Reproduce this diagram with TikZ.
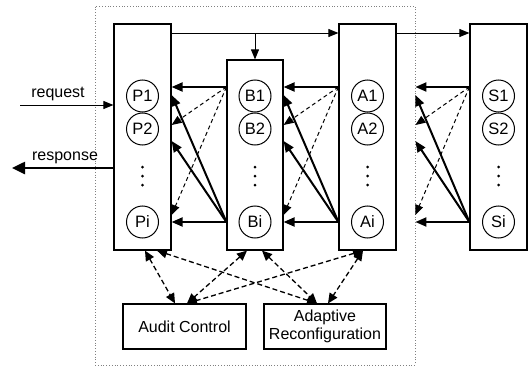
\documentclass[tikz,border=0pt]{standalone}
\usepackage{fontspec}
\setmainfont{Liberation Sans}
\usetikzlibrary{arrows.meta,calc}
\begin{document}
\begin{tikzpicture}[x=1pt,y=-1pt,
  box/.style={draw,line width=1.2pt,inner sep=0pt},
  proc/.style={draw,circle,line width=1pt,minimum size=32pt,inner sep=0pt,font=\fontsize{16.5}{18}\selectfont},
  lbl/.style={font=\fontsize{16}{18}\selectfont},
  thinarr/.style={line width=1pt,-{Triangle[length=10pt,width=8pt]}},
  thickarr/.style={line width=2pt,-{Triangle[length=11pt,width=9pt]}},
  bigarr/.style={line width=2.5pt,-{Triangle[length=13pt,width=12pt]}},
  dsharr/.style={line width=1pt,dash pattern=on 4pt off 3pt,-{Triangle[length=10pt,width=8pt]}},
  bidash/.style={line width=1.3pt,dash pattern=on 5pt off 3pt,{Triangle[length=10pt,width=9pt]}-{Triangle[length=10pt,width=9pt]}},
  dotdot/.style={fill,circle,inner sep=0pt,minimum size=3pt},
  frame/.style={draw=gray,dotted,line width=0.8pt,inner sep=0pt}
]
\useasboundingbox (0,0) rectangle (531,367);
\node[frame,minimum width=320pt,minimum height=359pt] (F) at (255,185.5) {};
\node[box,minimum width=57pt,minimum height=226pt] (P) at (142.5,137) {};
\node[box,minimum width=56pt,minimum height=190pt] (B) at (255,155) {};
\node[box,minimum width=57pt,minimum height=226pt] (A) at (367.5,137) {};
\node[box,minimum width=57pt,minimum height=226pt] (S) at (498.5,137) {};
\foreach \X/\x in {P/142.5,B/255,A/367.5,S/498.5}{
  \node[proc] (\X1) at (\x,96) {\X1};
  \node[proc] (\X2) at (\x,129) {\X2};
  \node[proc] (\X i) at (\x,222) {\X i};
  \node[dotdot] (\X d1) at (\x,167) {};
  \node[dotdot] (\X d2) at (\x,176) {};
  \node[dotdot] (\X d3) at (\x,185) {};
}
% top flow
\draw[thinarr] (P.east |- 0,33) -- (A.west |- 0,33);
\draw[thinarr] (B.north |- 0,33) -- (B.north);
\draw[thinarr] (A.east |- 0,33) -- (S.west |- 0,33);
% request / response
\coordinate (req) at (20,105);
\coordinate (resp) at (12,168);
\draw[thinarr] (req) -- (P.west |- req);
\draw[bigarr] (P.west |- resp) -- (resp);
\node[lbl,inner sep=0pt] (reqlbl) at (58,94) {request};
\node[lbl,inner sep=0pt] (resplbl) at (65,158) {response};
% backward groups
\foreach \s/\t in {B/P.east,A/B.east,S/F.east}{
  \draw[thickarr] (\s.west |- 0,87) -- (\t |- 0,87);
  \draw[dsharr] (\s.west |- 0,87) -- (\t |- 0,125);
  \draw[dsharr] (\s.west |- 0,87) -- (\t |- 0,215);
  \draw[thickarr] (\s.west |- 0,222) -- (\t |- 0,222);
  \draw[thickarr] (\s.west |- 0,222) -- (\t |- 0,95);
  \draw[thickarr] (\s.west |- 0,222) -- (\t |- 0,141);
}
% bottom boxes
\node[box,lbl,minimum width=123pt,minimum height=45pt] (AC) at (184.5,326.5) {Audit Control};
\node[box,lbl,align=center,minimum width=122pt,minimum height=45pt] (AR) at (325,326.5) {Adaptive\\Reconfiguration};
\draw[bidash] (P.south -| 145,0) -- (AC.north -| 175,0);
\draw[bidash] (P.south -| 157,0) -- (AR.north -| 317,0);
\draw[bidash] (B.south -| 247,0) -- (AC.north -| 187,0);
\draw[bidash] (B.south -| 262,0) -- (AR.north -| 317,0);
\draw[bidash] (A.south -| 363,0) -- (AC.north -| 187,0);
\draw[bidash] (A.south -| 363,0) -- (AR.north -| 328,0);
\end{tikzpicture}
\end{document}
